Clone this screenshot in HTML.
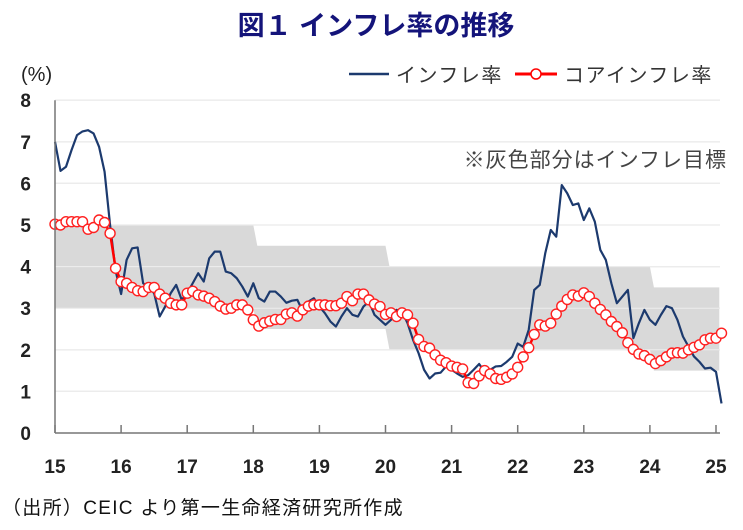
<!DOCTYPE html>
<html><head><meta charset="utf-8">
<style>
body{margin:0;background:#fff;}
svg text{font-family:"Liberation Sans","Noto Sans CJK JP",sans-serif;}
</style></head>
<body>
<svg id="chart" width="743" height="525" viewBox="0 0 743 525" xmlns="http://www.w3.org/2000/svg">
<text x="376" y="35" text-anchor="middle" font-size="27" font-weight="bold" fill="#14147a">図１ インフレ率の推移</text>
<text x="21" y="81" font-size="20" fill="#222">(%)</text>
<g>
<line x1="349" y1="74" x2="389" y2="74" stroke="#1c3a6e" stroke-width="2.5"/>
<text x="396" y="82" font-size="20" letter-spacing="1.5" fill="#333">インフレ率</text>
<line x1="515" y1="74" x2="557" y2="74" stroke="#ff0000" stroke-width="3"/>
<circle cx="536" cy="74" r="5" fill="#fff" stroke="#ff0000" stroke-width="1.5"/>
<text x="564" y="82" font-size="20" letter-spacing="1.5" fill="#333">コアインフレ率</text>
</g>
<g id="grid"></g>
<g id="band"></g>
<g id="series"></g>
<g id="axes"></g>
<text x="727" y="167" text-anchor="end" font-size="21" letter-spacing="1" fill="#444">※灰色部分はインフレ目標</text>
<text x="2" y="514" font-size="19" letter-spacing="1.3" fill="#111">（出所）CEIC より第一生命経済研究所作成</text>
</svg>
<script>
const yTicks=[0,1,2,3,4,5,6,7,8];
const xYears=[15,16,17,18,19,20,21,22,23,24,25];
const bandStarts=[2015,2018,2020,2024];
const bandEnds=[2018,2020,2024,2025.05];
const bandLow=[3,2.5,2,1.5];
const bandHigh=[5,4.5,4,3.5];
const inflation=[7.0,6.3,6.4,6.8,7.16,7.25,7.28,7.2,6.88,6.28,5.0,3.9,3.34,4.16,4.44,4.46,3.6,3.5,3.36,2.8,3.04,3.36,3.56,3.2,3.36,3.6,3.84,3.64,4.2,4.36,4.36,3.88,3.84,3.72,3.52,3.28,3.6,3.24,3.16,3.4,3.4,3.28,3.13,3.18,3.2,2.92,3.16,3.24,3.04,2.88,2.68,2.56,2.8,3.0,2.84,2.8,3.04,3.16,2.84,2.72,2.6,2.72,2.96,2.92,2.64,2.24,1.92,1.52,1.31,1.43,1.45,1.6,1.52,1.43,1.35,1.39,1.52,1.66,1.47,1.52,1.6,1.61,1.71,1.83,2.15,2.07,2.48,3.44,3.56,4.32,4.88,4.72,5.96,5.76,5.48,5.52,5.12,5.4,5.08,4.4,4.16,3.6,3.12,3.28,3.44,2.28,2.64,2.96,2.72,2.6,2.84,3.05,3.0,2.72,2.32,2.08,1.84,1.71,1.55,1.57,1.47,0.71];
const core=[5.02,5.0,5.08,5.08,5.08,5.08,4.9,4.94,5.12,5.06,4.8,3.96,3.64,3.6,3.5,3.42,3.4,3.5,3.5,3.34,3.24,3.12,3.08,3.08,3.36,3.41,3.32,3.29,3.24,3.16,3.05,2.98,3.0,3.08,3.08,2.96,2.72,2.57,2.65,2.69,2.73,2.73,2.86,2.89,2.81,2.96,3.05,3.08,3.08,3.08,3.06,3.06,3.12,3.28,3.18,3.34,3.34,3.2,3.1,3.04,2.85,2.89,2.8,2.89,2.84,2.64,2.25,2.08,2.04,1.88,1.75,1.69,1.61,1.58,1.54,1.21,1.19,1.37,1.5,1.42,1.31,1.29,1.34,1.42,1.58,1.83,2.05,2.37,2.6,2.57,2.64,2.86,3.05,3.21,3.32,3.29,3.37,3.28,3.12,2.97,2.84,2.68,2.56,2.41,2.17,2.01,1.9,1.86,1.77,1.67,1.74,1.83,1.92,1.93,1.92,2.0,2.06,2.12,2.24,2.28,2.28,2.4];

const NS="http://www.w3.org/2000/svg";
const X0=55,YW=66.1,Y0=433,YU=41.6,XR=720;
const xYear=y=>X0+(y-2015)*YW;
const xIdx=i=>X0+i*YW/12;
const yv=v=>Y0-v*YU;
function mk(tag,parent,attrs){const e=document.createElementNS(NS,tag);for(const k in attrs)e.setAttribute(k,attrs[k]);parent.appendChild(e);return e;}
const gridG=document.getElementById('grid'),bandG=document.getElementById('band'),serG=document.getElementById('series'),axesG=document.getElementById('axes');
yTicks.forEach(t=>{
  if(t>0){const l=mk('line',gridG,{x1:X0,x2:XR,y1:yv(t),y2:yv(t),stroke:'#d9d9d9','stroke-width':1.2});
  
  }
  const tx=mk('text',axesG,{x:31,y:yv(t)+7,'text-anchor':'end','font-size':19,'font-weight':'bold',fill:'#222'});
  tx.textContent=t;
  
  
});
const upper=[],lower=[];
const nB=bandStarts.length;
bandStarts.forEach((s,k)=>{
  const a=k>0?xYear(s)+4:xYear(s);
  const b=k<nB-1?xYear(bandEnds[k]):Math.min(xYear(bandEnds[k]),XR);
  upper.push([a,yv(bandHigh[k])],[b,yv(bandHigh[k])]);
  lower.push([a,yv(bandLow[k])],[b,yv(bandLow[k])]);
});
const bandPts=upper.concat(lower.reverse()).map(p=>p.join(',')).join(' ');
const bp=mk('polygon',bandG,{points:bandPts,fill:'#d9d9d9'});


yTicks.forEach(t=>{if(t>0){const l=mk('line',bandG,{x1:X0,x2:XR,y1:yv(t),y2:yv(t),stroke:'#eeeeee','stroke-width':1});

}});
const p1=mk('polyline',serG,{points:inflation.map((v,i)=>xIdx(i)+','+yv(v)).join(' '),fill:'none',stroke:'#1c3a6e','stroke-width':2.2,'stroke-linejoin':'round'});


const p2=mk('polyline',serG,{points:core.map((v,i)=>xIdx(i)+','+yv(v)).join(' '),fill:'none',stroke:'#ff0000','stroke-width':2.5});


core.forEach((v,i)=>{
  const c=mk('circle',serG,{cx:xIdx(i),cy:yv(v),r:5,fill:'#fff',stroke:'#ff2020','stroke-width':1.4});
  
  
});
const ya=mk('line',axesG,{x1:X0,x2:X0,y1:yv(8),y2:Y0,stroke:'#777','stroke-width':1.5});


const xa=mk('line',axesG,{x1:X0,x2:XR,y1:Y0,y2:Y0,stroke:'#777','stroke-width':1.5});


xYears.forEach(yr=>{
  const x=xYear(2000+yr);
  const tk=mk('line',axesG,{x1:x,x2:x,y1:Y0,y2:Y0-8,stroke:'#777','stroke-width':1.5});
  
  
  const tx=mk('text',axesG,{x:x,y:473,'text-anchor':'middle','font-size':19,'font-weight':'bold',fill:'#222'});
  tx.textContent=yr;
  
  
});
</script>
</body></html>
